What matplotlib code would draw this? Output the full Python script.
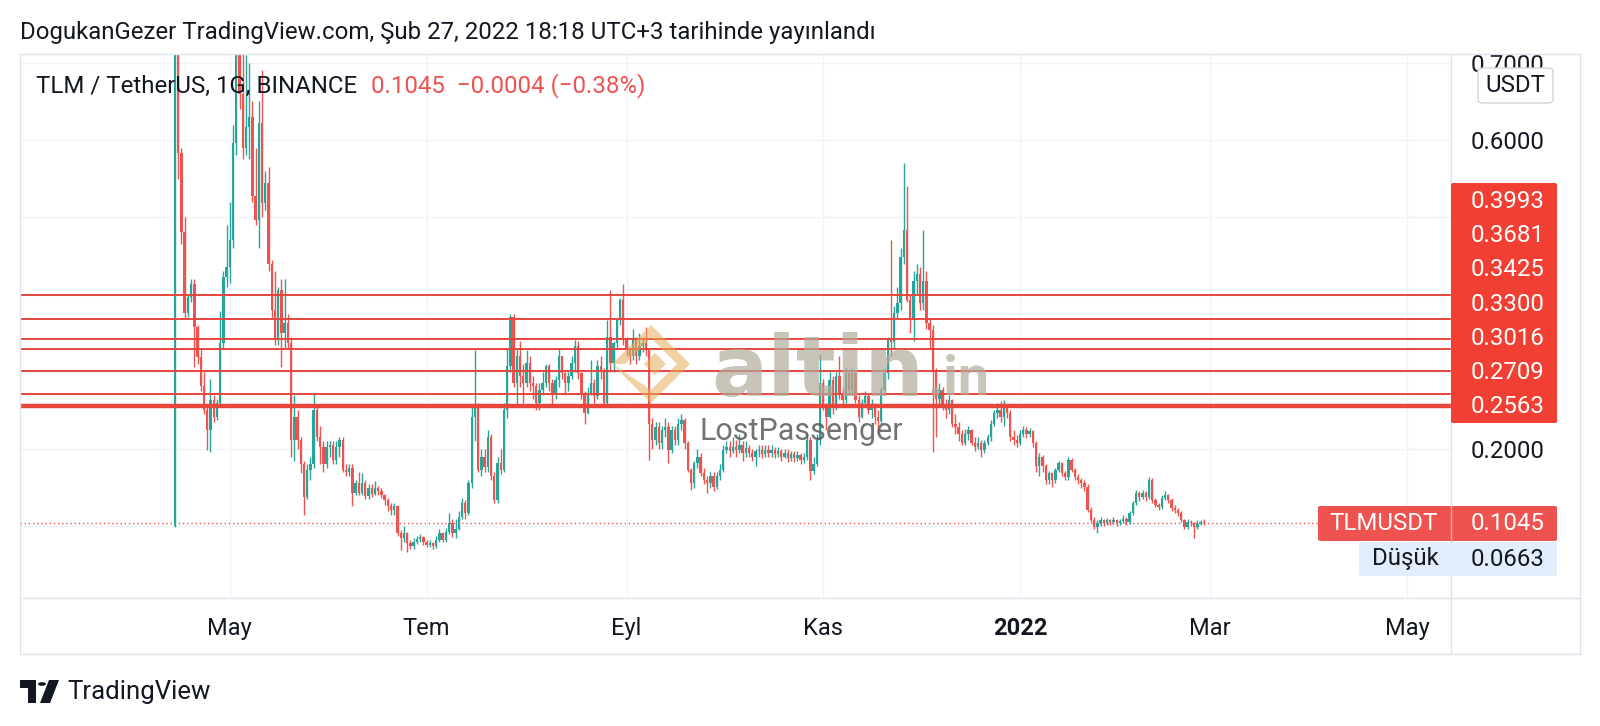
import numpy as np
import matplotlib.pyplot as plt
from matplotlib.patches import FancyBboxPatch, Polygon, Circle
from matplotlib.lines import Line2D

plt.rcParams['font.family'] = ['Roboto', 'DejaVu Sans']

# TLM/USDT daily candles, 2021-04-14 .. 2022-02-27 (open = previous close)
start_date = np.datetime64('2021-04-14')
first_open = 0.10
closes = [
    0.78, 0.583, 0.481, 0.376, 0.397, 0.414, 0.358, 0.319, 0.281, 0.250,
    0.225, 0.263, 0.242, 0.259, 0.337, 0.423, 0.436, 0.471, 0.596, 0.78,
    0.66, 0.59, 0.617, 0.63, 0.527, 0.496, 0.622, 0.518, 0.544, 0.44,
    0.38, 0.341, 0.406, 0.35, 0.363, 0.337, 0.212, 0.242, 0.212, 0.181,
    0.138, 0.173, 0.181, 0.25, 0.216, 0.203, 0.181, 0.203, 0.205, 0.186,
    0.203, 0.212, 0.173, 0.170, 0.176, 0.143, 0.156, 0.143, 0.156, 0.139,
    0.150, 0.142, 0.150, 0.145, 0.140, 0.134, 0.126, 0.121, 0.126, 0.091,
    0.085, 0.091, 0.078, 0.074, 0.080, 0.084, 0.086, 0.080, 0.076, 0.078,
    0.074, 0.082, 0.091, 0.082, 0.093, 0.104, 0.091, 0.097, 0.112, 0.130,
    0.117, 0.156, 0.242, 0.255, 0.173, 0.190, 0.177, 0.216, 0.165, 0.134,
    0.182, 0.173, 0.251, 0.307, 0.371, 0.285, 0.320, 0.294, 0.285, 0.311,
    0.285, 0.281, 0.259, 0.277, 0.285, 0.307, 0.285, 0.272, 0.289, 0.320,
    0.298, 0.285, 0.294, 0.311, 0.333, 0.298, 0.272, 0.246, 0.272, 0.285,
    0.268, 0.307, 0.302, 0.259, 0.345, 0.311, 0.337, 0.367, 0.393, 0.341,
    0.328, 0.320, 0.341, 0.320, 0.333, 0.337, 0.328, 0.233, 0.212, 0.229,
    0.208, 0.225, 0.229, 0.199, 0.225, 0.212, 0.233, 0.2375, 0.208, 0.173,
    0.156, 0.182, 0.190, 0.169, 0.160, 0.156, 0.165, 0.151, 0.165, 0.173,
    0.199, 0.203, 0.197, 0.203, 0.199, 0.205, 0.195, 0.201, 0.195, 0.190,
    0.197, 0.199, 0.193, 0.199, 0.195, 0.199, 0.193, 0.197, 0.190, 0.195,
    0.188, 0.193, 0.188, 0.192, 0.186, 0.190, 0.212, 0.172, 0.181, 0.212,
    0.285, 0.255, 0.242, 0.289, 0.255, 0.294, 0.272, 0.264, 0.298, 0.276,
    0.298, 0.264, 0.242, 0.259, 0.268, 0.251, 0.255, 0.242, 0.236, 0.276,
    0.298, 0.341, 0.338, 0.376, 0.389, 0.449, 0.483, 0.393, 0.367, 0.418,
    0.427, 0.389, 0.418, 0.363, 0.354, 0.302, 0.265, 0.276, 0.255, 0.250,
    0.263, 0.233, 0.229, 0.220, 0.208, 0.220, 0.224, 0.208, 0.203, 0.208,
    0.199, 0.208, 0.216, 0.233, 0.246, 0.250, 0.242, 0.255, 0.246, 0.216,
    0.212, 0.2074, 0.220, 0.2247, 0.220, 0.223, 0.2074, 0.1775, 0.190, 0.1775,
    0.160, 0.1685, 0.160, 0.173, 0.1815, 0.1685, 0.164, 0.186, 0.173, 0.164,
    0.160, 0.1555, 0.151, 0.121, 0.108, 0.099, 0.104, 0.108, 0.104, 0.108,
    0.105, 0.108, 0.104, 0.107, 0.110, 0.105, 0.117, 0.130, 0.1427, 0.1385,
    0.1427, 0.138, 0.160, 0.134, 0.128, 0.125, 0.1365, 0.141, 0.134, 0.1235,
    0.121, 0.117, 0.108, 0.099, 0.1055, 0.104, 0.099, 0.103, 0.1049, 0.1045,
]
highs = [
    0.92, 0.80, 0.59, 0.50, 0.40, 0.42, 0.42, 0.36, 0.33, 0.30,
    0.258, 0.29, 0.27, 0.265, 0.378, 0.43, 0.49, 0.52, 0.62, 0.90,
    0.88, 0.72, 0.71, 0.70, 0.65, 0.59, 0.65, 0.69, 0.56, 0.565,
    0.445, 0.43, 0.41, 0.42, 0.42, 0.375, 0.345, 0.27, 0.25, 0.215,
    0.185, 0.18, 0.19, 0.272, 0.255, 0.23, 0.21, 0.21, 0.21, 0.21,
    0.21, 0.215, 0.215, 0.18, 0.18, 0.18, 0.16, 0.17, 0.169, 0.16,
    0.155, 0.155, 0.158, 0.152, 0.15, 0.142, 0.136, 0.13, 0.13, 0.128,
    0.095, 0.10, 0.093, 0.082, 0.085, 0.088, 0.09, 0.088, 0.082, 0.082,
    0.08, 0.088, 0.097, 0.093, 0.098, 0.117, 0.11, 0.11, 0.12, 0.137,
    0.134, 0.16, 0.255, 0.328, 0.26, 0.20, 0.20, 0.225, 0.22, 0.17,
    0.19, 0.20, 0.26, 0.33, 0.375, 0.375, 0.33, 0.34, 0.31, 0.328,
    0.32, 0.295, 0.285, 0.285, 0.30, 0.31, 0.31, 0.29, 0.295, 0.33,
    0.32, 0.30, 0.30, 0.32, 0.341, 0.34, 0.30, 0.275, 0.28, 0.315,
    0.29, 0.315, 0.32, 0.305, 0.367, 0.406, 0.34, 0.37, 0.395, 0.414,
    0.345, 0.33, 0.355, 0.345, 0.35, 0.345, 0.358, 0.33, 0.24, 0.235,
    0.235, 0.23, 0.24, 0.235, 0.23, 0.23, 0.24, 0.245, 0.24, 0.21,
    0.175, 0.185, 0.20, 0.195, 0.175, 0.165, 0.17, 0.17, 0.17, 0.18,
    0.205, 0.21, 0.21, 0.216, 0.212, 0.22, 0.21, 0.21, 0.205, 0.20,
    0.20, 0.205, 0.205, 0.205, 0.205, 0.205, 0.202, 0.202, 0.20, 0.20,
    0.20, 0.198, 0.197, 0.197, 0.195, 0.195, 0.22, 0.215, 0.19, 0.22,
    0.323, 0.29, 0.26, 0.30, 0.295, 0.30, 0.32, 0.28, 0.305, 0.30,
    0.305, 0.30, 0.27, 0.265, 0.275, 0.272, 0.265, 0.26, 0.25, 0.28,
    0.305, 0.345, 0.47, 0.385, 0.41, 0.46, 0.57, 0.54, 0.40, 0.43,
    0.44, 0.436, 0.483, 0.43, 0.37, 0.36, 0.305, 0.285, 0.28, 0.265,
    0.27, 0.265, 0.245, 0.235, 0.225, 0.226, 0.23, 0.226, 0.215, 0.215,
    0.212, 0.212, 0.22, 0.237, 0.25, 0.26, 0.262, 0.263, 0.258, 0.25,
    0.225, 0.218, 0.225, 0.23, 0.228, 0.227, 0.225, 0.21, 0.195, 0.192,
    0.18, 0.172, 0.17, 0.176, 0.185, 0.183, 0.172, 0.19, 0.188, 0.176,
    0.168, 0.163, 0.16, 0.155, 0.125, 0.112, 0.108, 0.112, 0.11, 0.111,
    0.11, 0.112, 0.11, 0.11, 0.114, 0.112, 0.12, 0.133, 0.147, 0.146,
    0.147, 0.145, 0.164, 0.162, 0.137, 0.13, 0.14, 0.145, 0.142, 0.136,
    0.127, 0.123, 0.12, 0.11, 0.109, 0.108, 0.106, 0.108, 0.108, 0.11,
]
lows = [
    0.099, 0.55, 0.466, 0.37, 0.371, 0.39, 0.306, 0.31, 0.275, 0.245,
    0.199, 0.196, 0.235, 0.238, 0.255, 0.33, 0.41, 0.415, 0.46, 0.58,
    0.64, 0.575, 0.58, 0.575, 0.52, 0.49, 0.46, 0.50, 0.51, 0.43,
    0.37, 0.335, 0.335, 0.306, 0.33, 0.33, 0.19, 0.185, 0.20, 0.169,
    0.114, 0.135, 0.16, 0.175, 0.21, 0.18, 0.17, 0.175, 0.19, 0.18,
    0.18, 0.19, 0.17, 0.165, 0.165, 0.126, 0.14, 0.14, 0.14, 0.135,
    0.135, 0.138, 0.14, 0.14, 0.136, 0.128, 0.12, 0.115, 0.115, 0.088,
    0.069, 0.08, 0.0663, 0.07, 0.07, 0.077, 0.08, 0.076, 0.073, 0.073,
    0.071, 0.072, 0.08, 0.079, 0.08, 0.09, 0.086, 0.085, 0.095, 0.11,
    0.11, 0.115, 0.15, 0.21, 0.17, 0.165, 0.17, 0.17, 0.16, 0.13,
    0.13, 0.168, 0.17, 0.24, 0.30, 0.28, 0.255, 0.28, 0.26, 0.28,
    0.275, 0.265, 0.25, 0.25, 0.27, 0.28, 0.275, 0.255, 0.265, 0.28,
    0.29, 0.27, 0.275, 0.29, 0.30, 0.29, 0.265, 0.233, 0.245, 0.27,
    0.26, 0.265, 0.29, 0.255, 0.255, 0.30, 0.30, 0.33, 0.36, 0.335,
    0.32, 0.31, 0.315, 0.31, 0.315, 0.325, 0.32, 0.186, 0.20, 0.205,
    0.20, 0.20, 0.215, 0.182, 0.195, 0.205, 0.205, 0.225, 0.20, 0.17,
    0.147, 0.15, 0.175, 0.165, 0.155, 0.143, 0.15, 0.145, 0.148, 0.16,
    0.17, 0.195, 0.19, 0.195, 0.19, 0.195, 0.185, 0.19, 0.19, 0.185,
    0.178, 0.19, 0.188, 0.19, 0.19, 0.19, 0.188, 0.19, 0.185, 0.188,
    0.183, 0.185, 0.183, 0.185, 0.18, 0.182, 0.186, 0.160, 0.168, 0.178,
    0.205, 0.25, 0.225, 0.24, 0.245, 0.25, 0.265, 0.255, 0.26, 0.27,
    0.27, 0.26, 0.235, 0.24, 0.255, 0.245, 0.24, 0.233, 0.22, 0.232,
    0.27, 0.29, 0.32, 0.33, 0.37, 0.38, 0.44, 0.39, 0.35, 0.34,
    0.40, 0.38, 0.38, 0.355, 0.33, 0.196, 0.216, 0.255, 0.25, 0.24,
    0.245, 0.228, 0.22, 0.21, 0.205, 0.205, 0.212, 0.205, 0.198, 0.20,
    0.19, 0.195, 0.205, 0.21, 0.23, 0.24, 0.235, 0.23, 0.24, 0.21,
    0.205, 0.203, 0.205, 0.215, 0.214, 0.215, 0.203, 0.17, 0.165, 0.17,
    0.155, 0.155, 0.151, 0.156, 0.17, 0.165, 0.16, 0.16, 0.17, 0.16,
    0.155, 0.15, 0.145, 0.118, 0.105, 0.096, 0.091, 0.1, 0.1, 0.101,
    0.101, 0.103, 0.1, 0.101, 0.104, 0.101, 0.103, 0.114, 0.127, 0.133,
    0.135, 0.133, 0.135, 0.13, 0.125, 0.121, 0.122, 0.134, 0.13, 0.12,
    0.117, 0.113, 0.105, 0.096, 0.097, 0.1, 0.0845, 0.097, 0.102, 0.102,
]

level_lines = [0.3993, 0.3681, 0.3425, 0.3300, 0.3016, 0.2709, 0.2563]
last_price = 0.1045
low_price = 0.0663
price_ticks = [0.1, 0.2, 0.3, 0.4, 0.5, 0.6, 0.7]
shown_price_labels = [0.2, 0.6, 0.7]  # the rest sit under the price tags
month_dates = ['2021-05-01', '2021-07-01', '2021-09-01', '2021-11-01',
               '2022-01-01', '2022-03-01', '2022-05-01']
month_labels = ['May', 'Tem', 'Eyl', 'Kas', '2022', 'Mar', 'May']

title_text = 'DogukanGezer TradingView.com, Şub 27, 2022 18:18 UTC+3 tarihinde yayınlandı'
symbol_text = 'TLM / TetherUS, 1G, BINANCE'
change_text = '0.1045  −0.0004 (−0.38%)'

W, H = 1600, 726
UP, DOWN = '#26A69A', '#EF5350'
LINE_RED = '#E8453C'
TEXT = '#131722'
BORDER = '#E0E3EB'
FS = 17.3


def fx(x):
    return x / W


def fy(y):
    return 1 - y / H


fig = plt.figure(figsize=(W / 100, H / 100), dpi=100)
ax = fig.add_axes([fx(20), fy(598), fx(1451) - fx(20), fy(54) - fy(598)])

# candles
n = len(closes)
x = np.arange(n)
opens = np.array([first_open] + closes[:-1])
c = np.array(closes)
colors = np.where(c >= opens, UP, DOWN)
body_low = np.minimum(opens, c)
body_h = np.maximum(np.abs(c - opens), 0.0015)
ax.vlines(x, lows, highs, colors=colors, linewidth=1.0, zorder=3)
ax.bar(x, body_h, bottom=body_low, width=0.74, color=colors, linewidth=0, zorder=3)

# horizontal levels
for lvl in level_lines:
    ax.axhline(lvl, color=LINE_RED, linewidth=3.2 if lvl == 0.2563 else 1.4, zorder=4)
ax.axhline(last_price, color=DOWN, linewidth=1, linestyle=(0, (1, 2)), zorder=2)

ax.set_ylim(0.2 - 149 / 772.5, 0.2 + 395 / 772.5)
x_left = -(175 - 20) / 3.225
ax.set_xlim(x_left, x_left + 1431 / 3.225)

month_pos = [(np.datetime64(d) - start_date).astype(int) for d in month_dates]
ax.set_xticks(month_pos)
ax.set_xticklabels(month_labels)
ax.get_xticklabels()[4].set_fontweight('bold')
ax.set_yticks(price_ticks)
ax.set_yticklabels(['%.4f' % v if v in shown_price_labels else '' for v in price_ticks])
ax.yaxis.tick_right()
ax.tick_params(axis='y', length=0, pad=14.4, labelsize=FS, labelcolor=TEXT)
ax.tick_params(axis='x', length=0, pad=14, labelsize=17, labelcolor=TEXT)
ax.grid(True, color='#F0F3FA', linewidth=1, zorder=0)
ax.set_axisbelow(True)
for s in ax.spines.values():
    s.set_visible(False)

# frame
for (x0, y0, x1, y1) in [(20, 54, 1580, 54), (20, 654, 1580, 654), (20, 54, 20, 654),
                         (1580, 54, 1580, 654), (1451, 54, 1451, 654), (20, 598, 1580, 598)]:
    fig.add_artist(Line2D([fx(x0), fx(x1)], [fy(y0), fy(y1)], color=BORDER, linewidth=1))

# header texts
fig.text(fx(20), fy(33), title_text, fontsize=FS, color=TEXT, va='center')
fig.text(fx(36), fy(86), symbol_text, fontsize=FS, color=TEXT, va='center', zorder=6)
fig.text(fx(371), fy(86), change_text, fontsize=FS, color=DOWN, va='center', zorder=6)


def box(x0, y0, x1, y1, color, edge='none', r=3, z=5):
    p = FancyBboxPatch((fx(x0), fy(y1)), fx(x1) - fx(x0), fy(y0) - fy(y1),
                       boxstyle='round,pad=0,rounding_size=%f' % (r / W),
                       transform=fig.transFigure, facecolor=color, edgecolor=edge,
                       linewidth=1, zorder=z)
    fig.add_artist(p)


# USDT button
box(1478, 68, 1553, 103, 'white', edge='#D1D4DC', r=6)
fig.text(fx(1515.5), fy(86), 'USDT', fontsize=FS, color=TEXT, ha='center', va='center', zorder=6)

# stacked level labels
box(1451, 183, 1557, 423, '#F23F33')
for k, lvl in enumerate(level_lines):
    fig.text(fx(1471), fy(201.5 + k * 34.2), '%.4f' % lvl, fontsize=FS, color='white',
             va='center', zorder=6)

# last price / low labels
box(1318, 506, 1557, 541, '#EF5350')
fig.add_artist(Line2D([fx(1451), fx(1451)], [fy(506), fy(541)], color='#F7A9A7', linewidth=1, zorder=6))
fig.text(fx(1384), fy(523.5), 'TLMUSDT', fontsize=FS, color='white', ha='center', va='center', zorder=6)
fig.text(fx(1471), fy(523.5), '%.4f' % last_price, fontsize=FS, color='white', va='center', zorder=6)
box(1359, 542, 1557, 576, '#E3EEFC')
fig.text(fx(1405), fy(559), 'Düşük', fontsize=FS, color=TEXT, ha='center', va='center', zorder=6)
fig.text(fx(1471), fy(559), '%.4f' % low_price, fontsize=FS, color=TEXT, va='center', zorder=6)

# watermark
cx, cy, r_out, r_in = 651, 364, 39, 26
outer = [(cx - r_out, cy), (cx, cy - r_out), (cx + r_out, cy), (cx, cy + r_out)]
inner = [(cx - r_in, cy), (cx, cy - r_in), (cx + r_in, cy), (cx, cy + r_in)]
ring = Polygon([(fx(a), fy(b)) for a, b in outer + [outer[0]] + inner[::-1] + [inner[0]]],
               closed=True, transform=fig.transFigure, facecolor='#E6AE5A', alpha=0.55,
               edgecolor='none', zorder=5)
fig.add_artist(ring)
core = Polygon([(fx(cx + 4 + a), fy(cy + b)) for a, b in [(-11, 0), (0, -11), (11, 0), (0, 11)]],
               closed=True, transform=fig.transFigure, facecolor='#E6AE5A', alpha=0.55,
               edgecolor='none', zorder=5)
fig.add_artist(core)
fig.text(fx(711), fy(396), 'altin', fontsize=60, fontweight='bold', family='DejaVu Sans',
         color='#B3AB9B', alpha=0.7, va='baseline', zorder=5)
fig.text(fx(928), fy(394), '.in', fontsize=40, fontweight='bold', color='#B3AB9B',
         alpha=0.7, va='baseline', zorder=5)
fig.text(fx(801), fy(440), 'LostPassenger', fontsize=22, color='#5A5A5A', alpha=0.85,
         ha='center', va='baseline', zorder=5)

# TradingView footer
logo_t = Polygon([(fx(a), fy(b)) for a, b in [(20, 680), (36, 680), (36, 703), (28, 703), (28, 688), (20, 688)]],
                 closed=True, transform=fig.transFigure, facecolor=TEXT, edgecolor='none')
fig.add_artist(logo_t)
fig.add_artist(Circle((fx(42), fy(684)), 4 / W, transform=fig.transFigure, facecolor=TEXT, edgecolor='none'))
logo_s = Polygon([(fx(a), fy(b)) for a, b in [(49, 680), (59, 680), (50, 703), (40, 703)]],
                 closed=True, transform=fig.transFigure, facecolor=TEXT, edgecolor='none')
fig.add_artist(logo_s)
fig.text(fx(67), fy(692), 'TradingView', fontsize=18.5, color=TEXT, va='center')

fig.savefig('out.png', dpi=100, facecolor='white')
